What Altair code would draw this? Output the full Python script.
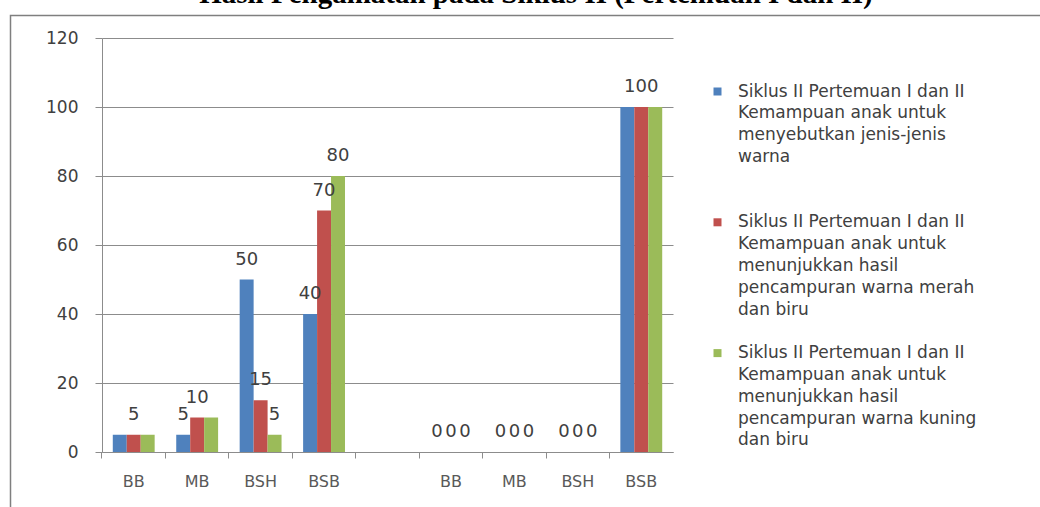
import altair as alt
import pandas as pd

# ---------------- data ----------------
title_text = "Hasil Pengamatan pada Siklus II (Pertemuan I dan II)"

categories = ["BB", "MB", "BSH", "BSB", " ", "BB ", "MB ", "BSH ", "BSB "]
bar_categories = ["BB", "MB", "BSH", "BSB", "BB ", "MB ", "BSH ", "BSB "]

series_names = ["Siklus II - menyebutkan jenis-jenis warna",
                "Siklus II - warna merah dan biru",
                "Siklus II - warna kuning dan biru"]
series_colors = ["#4F81BD", "#C0504D", "#9BBB59"]

# legend text, line by line (blank lines keep the spacing of the original)
legend_lines = [
    ["Siklus II Pertemuan I dan II", "Kemampuan anak untuk",
     "menyebutkan jenis-jenis", "warna", "\u00a0", "\u00a0"],
    ["Siklus II Pertemuan I dan II", "Kemampuan anak untuk",
     "menunjukkan hasil", "pencampuran warna merah", "dan biru", "\u00a0"],
    ["Siklus II Pertemuan I dan II", "Kemampuan anak untuk",
     "menunjukkan hasil", "pencampuran warna kuning", "dan biru"],
]

values_blue = [5, 5, 50, 40, 0, 0, 0, 100]
values_red = [5, 10, 15, 70, 0, 0, 0, 100]
values_green = [5, 10, 5, 80, 0, 0, 0, 100]

# which data labels are visible in the original
show_blue = [0, 1, 1, 1, 1, 1, 1, 0]
show_red = [1, 1, 1, 1, 1, 1, 1, 1]
show_green = [0, 0, 1, 1, 1, 1, 1, 0]

rows = []
for name, vals, shows in zip(series_names,
                             [values_blue, values_red, values_green],
                             [show_blue, show_red, show_green]):
    for c, v, s in zip(bar_categories, vals, shows):
        rows.append({"cat": c, "series": name, "value": v, "show": s})
df = pd.DataFrame(rows)

leg_keys, leg_colors = [], []
n = 0
for color, lines in zip(series_colors, legend_lines):
    for i, line in enumerate(lines):
        leg_keys.append(f"{n:02d}|{line}")
        leg_colors.append(color if i == 0 else "transparent")
        n += 1
leg_df = pd.DataFrame({"line": leg_keys})

# ---------------- chart ----------------
W, H = 571, 414
FONT = "DejaVu Sans"
GRID = "#8c8c8c"
TXT = "#404040"

cat_scale = alt.Scale(domain=categories, paddingInner=0.34, paddingOuter=0.17)
y_scale = alt.Scale(domain=[0, 120], nice=False)

x_enc = alt.X(
    "cat:N",
    sort=categories,
    scale=cat_scale,
    axis=alt.Axis(
        title=None, labelAngle=0, labelExpr="trim(datum.label)",
        labelFont=FONT, labelFontSize=16, labelColor="#595959",
        labelPadding=15, ticks=True, tickSize=6, tickColor=GRID,
        bandPosition=-0.2576,
        domainColor=GRID, grid=False,
    ),
)
x_off = alt.XOffset("series:N", sort=series_names,
                    scale=alt.Scale(domain=series_names))
y_enc = alt.Y(
    "value:Q",
    scale=y_scale,
    axis=alt.Axis(
        title=None, values=[0, 20, 40, 60, 80, 100, 120],
        labelFont=FONT, labelFontSize=17, labelColor=TXT,
        labelPadding=17, tickSize=7, tickColor=GRID,
        domainColor=GRID, gridColor=GRID, gridWidth=1,
    ),
)

bars = alt.Chart(df).mark_bar().encode(
    x=x_enc,
    xOffset=x_off,
    y=y_enc,
    color=alt.Color("series:N", sort=series_names,
                    scale=alt.Scale(domain=series_names, range=series_colors),
                    legend=None),
)

labels = alt.Chart(df).transform_filter("datum.show == 1").mark_text(
    font=FONT, fontSize=18, color=TXT, baseline="middle", dy=-20
).encode(
    x=alt.X("cat:N", sort=categories, scale=cat_scale),
    xOffset=x_off,
    y=alt.Y("value:Q", scale=y_scale),
    text="value:Q",
)

legend_layer = alt.Chart(leg_df).mark_square(opacity=0).encode(
    x=alt.value(0), y=alt.value(0),
    fill=alt.Fill(
        "line:N", sort=leg_keys,
        scale=alt.Scale(domain=leg_keys, range=leg_colors),
        legend=alt.Legend(
            title=None, orient="none", legendX=607, legendY=45,
            symbolType="square", symbolSize=64, symbolStrokeWidth=0,
            symbolOpacity=1,
            labelFont=FONT, labelFontSize=17, labelColor=TXT,
            labelExpr="split(datum.label, '|')[1]", labelLimit=0,
            labelOffset=12, rowPadding=3.8, padding=0,
        ),
    ),
)

title = alt.Chart(pd.DataFrame({"t": [title_text]})).mark_text(
    font="Liberation Serif", fontWeight="bold", fontSize=29,
    color="#000000", align="center", baseline="alphabetic",
).encode(text="t:N", x=alt.value(434), y=alt.value(-35))

border = alt.Chart(pd.DataFrame({"a": [0]})).mark_rect(
    fill="transparent", stroke="#7f7f7f", strokeWidth=1.5
).encode(x=alt.value(-91.5), x2=alt.value(945), y=alt.value(-22.5), y2=alt.value(480))

chart = alt.layer(border, bars, labels, legend_layer, title).resolve_scale(
    color="independent", fill="independent"
).properties(
    width=W, height=H,
    autosize=alt.AutoSizeParams(type="none"),
    padding={"left": 102, "top": 38, "right": 367, "bottom": 55},
    background="white",
).configure_view(strokeWidth=0)

chart.save("out.html", embed_options={"renderer": "svg", "actions": False})
